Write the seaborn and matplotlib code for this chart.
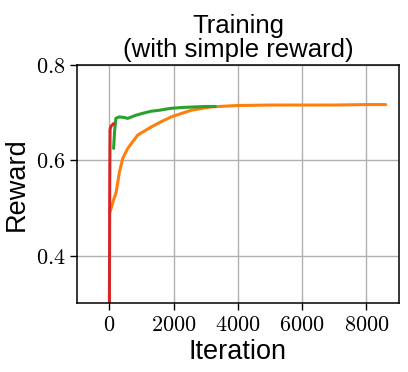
import matplotlib
matplotlib.use("Agg")
import matplotlib.pyplot as plt
import seaborn as sns
import pandas as pd

# ---- data ----
red_x = [0, 10, 20, 40, 70, 100, 130]
red_y = [0.30, 0.55, 0.665, 0.670, 0.673, 0.675, 0.677]

green_x = [130, 160, 200, 300, 450, 570, 800, 1000, 1300, 1550, 1900, 2300, 2650, 3000, 3300]
green_y = [0.625, 0.660, 0.688, 0.691, 0.690, 0.688, 0.694, 0.698, 0.703, 0.705, 0.709, 0.711, 0.712, 0.713, 0.713]

orange_x = [0, 50, 120, 210, 310, 415, 570, 880, 1300, 1610, 1920, 2540, 3160, 3980, 5000, 6000, 7000, 8000, 8600]
orange_y = [0.490, 0.498, 0.515, 0.533, 0.575, 0.604, 0.625, 0.653, 0.670, 0.681, 0.691, 0.705, 0.712, 0.715, 0.716, 0.716, 0.716, 0.717, 0.717]

x_ticks = [0, 2000, 4000, 6000, 8000]
y_ticks = [0.4, 0.6, 0.8]

title = "Training\n(with simple reward)"
xlabel = "Iteration"
ylabel = "Reward"

runs = ["run_orange", "run_green", "run_red"]
colors = {"run_orange": "#ff7f0e", "run_green": "#2ca02c", "run_red": "#d62728"}

df = pd.concat([
    pd.DataFrame({"Iteration": orange_x, "Reward": orange_y, "run": runs[0]}),
    pd.DataFrame({"Iteration": green_x, "Reward": green_y, "run": runs[1]}),
    pd.DataFrame({"Iteration": red_x, "Reward": red_y, "run": runs[2]}),
], ignore_index=True)

sns.set_style("ticks")
plt.rcParams["font.family"] = ["Liberation Sans", "DejaVu Sans"]
plt.rcParams["mathtext.fontset"] = "cm"
plt.rcParams["text.color"] = "black"
plt.rcParams["axes.labelcolor"] = "black"
plt.rcParams["xtick.color"] = "black"
plt.rcParams["ytick.color"] = "black"

fig = plt.figure(figsize=(4.08, 3.72), dpi=100)
ax = fig.add_axes([77.3 / 408, 1 - 303.3 / 372, (398.5 - 77.3) / 408, (303.3 - 65) / 372])

sns.lineplot(data=df, x="Iteration", y="Reward", hue="run", hue_order=runs,
             palette=colors, sort=False, estimator=None, linewidth=2.2,
             legend=False, ax=ax)

ax.set_xlim(-1000, 9000)
ax.set_ylim(0.3, 0.8)
ax.set_xticks(x_ticks)
ax.set_xticklabels([f"${v}$" for v in x_ticks])
ax.set_yticks(y_ticks)
ax.set_yticklabels([f"${v:.1f}$" for v in y_ticks])
ax.tick_params(labelsize=16, length=5, width=1, colors="black")
ax.grid(True, color="#b0b0b0", linewidth=1)
ax.set_axisbelow(True)
for s in ax.spines.values():
    s.set_color("black")
    s.set_linewidth(1.1)

ax.set_xlabel(xlabel, fontsize=19.5, labelpad=2, color="black")
ax.set_ylabel(ylabel, fontsize=19.5, labelpad=4, color="black")
ax.set_title(title, fontsize=18.5, pad=6, linespacing=1.0, color="black")

fig.savefig("out.png", dpi=100)
